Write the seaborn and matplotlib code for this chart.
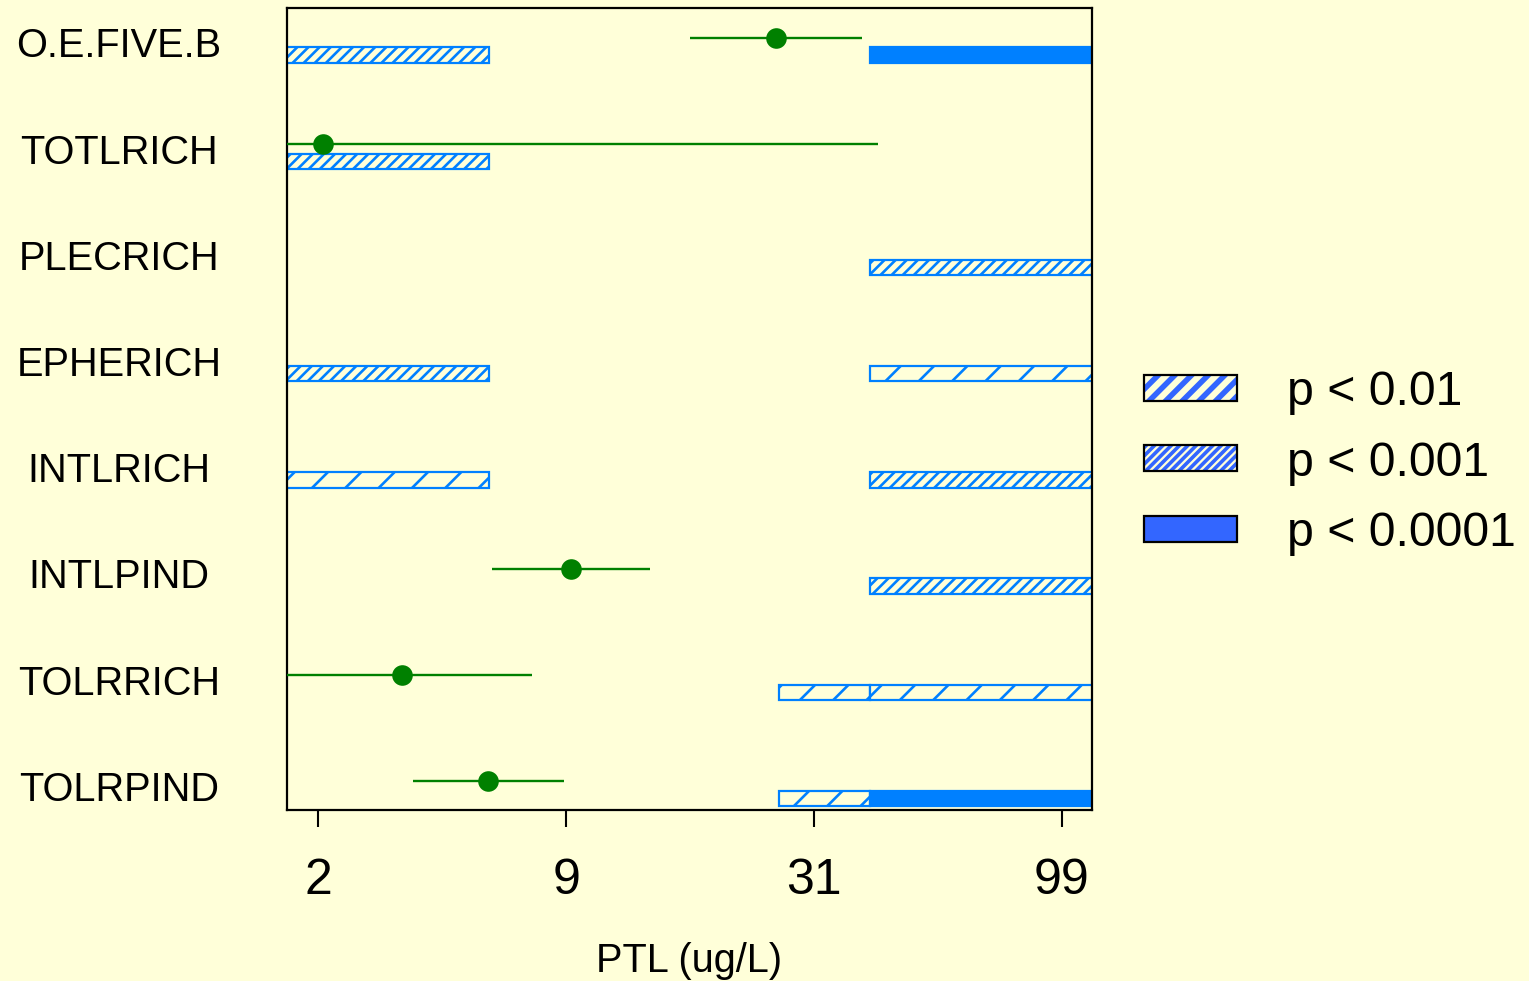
import numpy as np
import pandas as pd
import matplotlib
matplotlib.use("Agg")
import matplotlib as mpl
import matplotlib.pyplot as plt
from matplotlib.patches import Rectangle
from matplotlib.legend_handler import HandlerBase
from matplotlib.ticker import NullLocator
import seaborn as sns

# Response metrics, top to bottom
variables = ["O.E.FIVE.B", "TOTLRICH", "PLECRICH", "EPHERICH",
             "INTLRICH", "INTLPIND", "TOLRRICH", "TOLRPIND"]

# Change-point estimates with their intervals (PTL, ug/L)
cp_variable = ["O.E.FIVE.B", "TOTLRICH", "INTLPIND", "TOLRRICH", "TOLRPIND"]
cp_estimate = [25.7, 2.06, 9.22, 3.33, 5.59]
cp_lower = [16.7, 1.5, 5.75, 1.5, 3.55]
cp_upper = [38.9, 41.9, 13.7, 7.30, 8.87]

# PTL ranges where the metric differs significantly (level 1..3)
seg_variable = ["O.E.FIVE.B", "O.E.FIVE.B", "TOTLRICH", "PLECRICH",
                "EPHERICH", "EPHERICH", "INTLRICH", "INTLRICH", "INTLPIND",
                "TOLRRICH", "TOLRRICH", "TOLRPIND", "TOLRPIND"]
seg_start = [1.5, 40.3, 1.5, 40.3, 1.5, 40.3, 1.5, 40.3, 40.3,
             26.0, 40.3, 26.0, 40.3]
seg_end = [5.64, 130, 5.64, 130, 5.64, 130, 5.64, 130, 130,
           40.3, 130, 40.3, 130]
seg_level = [2, 3, 2, 2, 2, 1, 1, 2, 2, 1, 1, 1, 3]

level_labels = ["p < 0.01", "p < 0.001", "p < 0.0001"]
tick_values = [2, 9, 31, 99]

BG = "#FFFFD9"
BAR_BLUE = "#0080FF"
KEY_BLUE = "#3366FF"
GREEN = "#008000"
BAR_HATCH_LW = 0.95

sns.set_theme(style="white", rc={
    "axes.facecolor": BG,
    "figure.facecolor": BG,
    "savefig.facecolor": BG,
    "axes.edgecolor": "black",
    "axes.linewidth": 0.8,
    "hatch.linewidth": BAR_HATCH_LW,
    "text.color": "black",
    "axes.labelcolor": "black",
    "xtick.color": "black",
    "ytick.color": "black",
})
plt.rcParams["font.family"] = ["Liberation Sans", "DejaVu Sans"]

# Axis spacing: tick values equally spaced, log-linear between them
log_ticks = np.log10(np.array(tick_values, dtype=float))
slots = np.arange(len(tick_values), dtype=float)
lo_slope = (slots[1] - slots[0]) / (log_ticks[1] - log_ticks[0])
hi_slope = (slots[-1] - slots[-2]) / (log_ticks[-1] - log_ticks[-2])


def to_slot(x):
    lx = np.log10(np.clip(np.asarray(x, dtype=float), 1e-6, None))
    out = np.interp(lx, log_ticks, slots)
    out = np.where(lx < log_ticks[0], slots[0] + (lx - log_ticks[0]) * lo_slope, out)
    out = np.where(lx > log_ticks[-1], slots[-1] + (lx - log_ticks[-1]) * hi_slope, out)
    return out


def from_slot(s):
    s = np.asarray(s, dtype=float)
    lx = np.interp(s, slots, log_ticks)
    lx = np.where(s < slots[0], log_ticks[0] + (s - slots[0]) / lo_slope, lx)
    lx = np.where(s > slots[-1], log_ticks[-1] + (s - slots[-1]) / hi_slope, lx)
    return 10 ** lx


class StripedRect(Rectangle):
    """Rectangle whose hatch strokes use their own line width."""

    def __init__(self, *args, stripe_lw=1.0, **kwargs):
        self.stripe_lw = stripe_lw
        with mpl.rc_context({"hatch.linewidth": stripe_lw}):
            super().__init__(*args, **kwargs)

    def draw(self, renderer):
        with mpl.rc_context({"hatch.linewidth": self.stripe_lw}):
            super().draw(renderer)


class KeyHandler(HandlerBase):
    def create_artists(self, legend, orig_handle, xdescent, ydescent,
                       width, height, fontsize, trans):
        hatch, stripe_lw = orig_handle.key_style
        xy = (-xdescent, -ydescent)
        if hatch is None:
            fill = Rectangle(xy, width, height, facecolor=KEY_BLUE,
                             edgecolor="none", linewidth=0, transform=trans)
        else:
            fill = StripedRect(xy, width, height, stripe_lw=stripe_lw,
                               facecolor=BG, edgecolor=KEY_BLUE, hatch=hatch,
                               linewidth=0, transform=trans)
        frame = Rectangle(xy, width, height, facecolor="none",
                          edgecolor="black", linewidth=0.8, transform=trans)
        return [fill, frame]


W, H, DPI = 1529, 981, 200
fig = plt.figure(figsize=(W / DPI, H / DPI), dpi=DPI)
ax = fig.add_axes([287.3 / W, 1 - 810 / H, (1091.7 - 287.3) / W, (810 - 8) / H])

row_of = {v: i for i, v in enumerate(variables)}
BAR_OFF, PT_OFF, BAR_H = 0.081, -0.082, 0.145

segs = pd.DataFrame({"variable": seg_variable, "start": seg_start,
                     "end": seg_end, "level": seg_level})
segs["row"] = segs["variable"].map(row_of)

hatch_for = {1: "//", 2: "//////", 3: None}
for lvl, grp in segs.groupby("level"):
    solid = hatch_for[lvl] is None
    ax.barh(grp["row"] + BAR_OFF, grp["end"] - grp["start"], left=grp["start"],
            height=BAR_H, facecolor=BAR_BLUE if solid else BG,
            edgecolor=BAR_BLUE, hatch=hatch_for[lvl], linewidth=0.8, zorder=2)

cps = pd.DataFrame({"variable": cp_variable, "estimate": cp_estimate,
                    "lower": cp_lower, "upper": cp_upper})
cps["y"] = cps["variable"].map(row_of) + PT_OFF

ax.hlines(cps["y"], cps["lower"], cps["upper"], color=GREEN, linewidth=0.85, zorder=3)
sns.scatterplot(data=cps, x="estimate", y="y", ax=ax, color=GREEN, s=55,
                linewidth=0, zorder=4, legend=False)

ax.set_xscale("function", functions=(to_slot, from_slot))
ax.set_xlim(from_slot(-0.125), from_slot(3.121))
ax.set_ylim(7.19, -0.362)
ax.set_xticks(tick_values)
ax.set_xticklabels([str(v) for v in tick_values])
ax.xaxis.set_minor_locator(NullLocator())
ax.tick_params(axis="x", bottom=True, direction="out", length=6, width=0.75,
               pad=11.3, labelsize=18, colors="black")

ax.set_yticks(range(len(variables)))
ax.set_yticklabels(variables, ha="center", va="center", fontsize=14.3)
ax.tick_params(axis="y", left=False, length=0, pad=60.6, colors="black")

ax.set_xlabel("PTL (ug/L)", fontsize=14.3, labelpad=13.5, color="black")
ax.set_ylabel("")
for sp in ax.spines.values():
    sp.set_visible(True)
    sp.set_color("black")
    sp.set_linewidth(0.8)

# Significance key
key_styles = [("////", 2.0), ("////////", 1.3), (None, 0.0)]
handles = []
for style in key_styles:
    h = Rectangle((0, 0), 1, 1)
    h.key_style = style
    handles.append(h)

fig.legend(handles, level_labels, loc="center left",
           bbox_to_anchor=(1144 / W, 1 - 463 / H), frameon=False,
           borderpad=0, borderaxespad=0, handlelength=1.92, handleheight=0.455,
           handletextpad=1.03, labelspacing=0.53, fontsize=17.4,
           labelcolor="black", handler_map={Rectangle: KeyHandler()})

fig.savefig("out.png", dpi=DPI, facecolor=BG)
